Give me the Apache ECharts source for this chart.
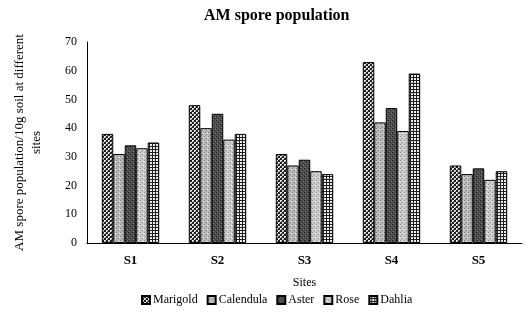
<!DOCTYPE html>
<html>
<head>
<meta charset="utf-8">
<script src="https://cdn.jsdelivr.net/npm/echarts@6/dist/echarts.min.js"></script>
<style>
    html, body { margin: 0; padding: 0; background: #fff; }
    #chart { width: 526px; height: 322px; }
</style>
</head>
<body>
<div id="chart"></div>
<script>
    // 数据
    var sites = ['S1', 'S2', 'S3', 'S4', 'S5'];
    var marigold = [38, 48, 31, 63, 27];
    var calendula = [31, 40, 27, 42, 24];
    var aster = [34, 45, 29, 47, 26];
    var rose = [33, 36, 25, 39, 22];
    var dahlia = [35, 38, 24, 59, 25];
    var yTicks = [0, 10, 20, 30, 40, 50, 60, 70];

    var FONT = '"Liberation Serif", "DejaVu Serif", serif';

    // 小图案 (pattern fill)
    function makePattern(size, bg, dots) {
        var c = document.createElement('canvas');
        c.width = size; c.height = size;
        var ctx = c.getContext('2d');
        ctx.fillStyle = bg;
        ctx.fillRect(0, 0, size, size);
        dots.forEach(function (d) {
            ctx.fillStyle = d[4];
            ctx.fillRect(d[0], d[1], d[2], d[3]);
        });
        return { image: c, repeat: 'repeat' };
    }

    var patMarigold = makePattern(4, '#1e1e1e', [[0, 0, 2, 2, '#e8e8e8'], [2, 2, 2, 2, '#e8e8e8'], [1, 1, 1, 1, '#777'], [3, 3, 1, 1, '#777']]);
    var patCalendula = makePattern(4, '#bdbdbd', [[0, 0, 1, 1, '#7a7a7a'], [2, 2, 1, 1, '#7a7a7a'], [1, 3, 1, 1, '#9a9a9a'], [3, 1, 1, 1, '#e6e6e6']]);
    var patAster = makePattern(4, '#4c4c4c', [[0, 0, 1, 1, '#222'], [2, 2, 1, 1, '#222'], [1, 3, 1, 1, '#7a7a7a'], [3, 1, 1, 1, '#7a7a7a']]);
    var patRose = makePattern(4, '#cdcdcd', [[0, 0, 1, 1, '#8e8e8e'], [2, 2, 1, 1, '#8e8e8e'], [1, 3, 1, 1, '#b0b0b0'], [3, 1, 1, 1, '#f2f2f2']]);
    var patDahlia = makePattern(3, '#1e1e1e', [[0, 0, 2, 2, '#eeeeee']]);

    function barSeries(name, data, pattern) {
        return {
            name: name,
            type: 'bar',
            data: data,
            barGap: '0%',
            barCategoryGap: '34%',
            itemStyle: {
                color: pattern,
                borderColor: '#000',
                borderWidth: 1
            }
        };
    }

    var myEcharts = echarts.init(document.getElementById('chart'), null, { renderer: 'canvas' });
    myEcharts.setOption({
        animation: false,
        title: {
            text: 'AM spore population',
            left: 199,
            top: 3,
            textStyle: { fontFamily: FONT, fontSize: 16, fontWeight: 'bold', color: '#000' }
        },
        legend: {
            top: 289,
            left: 136,
            itemWidth: 8,
            itemHeight: 8,
            itemGap: 9,
            icon: 'rect',
            textStyle: { fontFamily: FONT, fontSize: 12, color: '#000', padding: [0, 0, 0, -2] },
            data: ['Marigold', 'Calendula', 'Aster', 'Rose', 'Dahlia']
        },
        grid: { left: 87, right: 4, top: 42, bottom: 79 },
        xAxis: {
            type: 'category',
            data: sites,
            name: 'Sites',
            nameLocation: 'middle',
            nameGap: 34,
            nameTextStyle: { fontFamily: FONT, fontSize: 12, color: '#000' },
            axisLine: { lineStyle: { color: '#000', width: 1 } },
            axisTick: { show: false },
            axisLabel: { fontFamily: FONT, fontSize: 13, fontWeight: 'bold', color: '#000', margin: 11 }
        },
        yAxis: {
            type: 'value',
            min: yTicks[0],
            max: yTicks[yTicks.length - 1],
            interval: 10,
            name: 'AM spore population/10g soil at different\nsites',
            nameLocation: 'middle',
            nameGap: 42,
            nameTextStyle: { fontFamily: FONT, fontSize: 13, color: '#000', lineHeight: 17 },
            axisLine: { show: true, lineStyle: { color: '#000', width: 1 } },
            axisTick: { show: false },
            splitLine: { show: false },
            axisLabel: { fontFamily: FONT, fontSize: 12, color: '#000', margin: 10 }
        },
        series: [
            barSeries('Marigold', marigold, patMarigold),
            barSeries('Calendula', calendula, patCalendula),
            barSeries('Aster', aster, patAster),
            barSeries('Rose', rose, patRose),
            barSeries('Dahlia', dahlia, patDahlia)
        ]
    });
</script>
</body>
</html>
